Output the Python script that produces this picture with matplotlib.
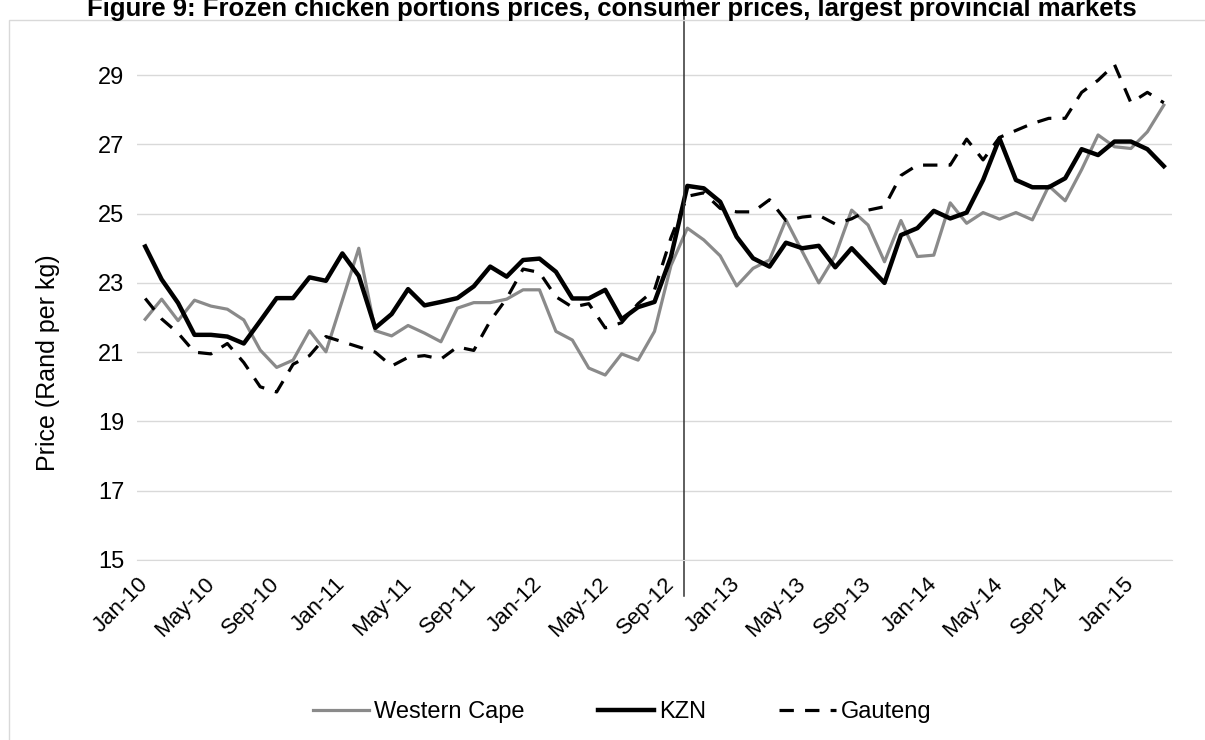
import matplotlib
matplotlib.use('Agg')
import matplotlib.pyplot as plt
from matplotlib.patches import Rectangle

plt.rcParams['font.family'] = ['Liberation Sans', 'DejaVu Sans']

# monthly consumer prices, Jan-10 .. Mar-15 (Rand per kg)
western_cape = [21.95, 22.53, 21.91, 22.5, 22.33, 22.24, 21.93, 21.06, 20.56, 20.77,
                21.62, 21.01, 22.5, 24.0, 21.62, 21.47, 21.77, 21.55, 21.3, 22.27,
                22.43, 22.43, 22.53, 22.8, 22.8, 21.6, 21.35, 20.54, 20.34, 20.95,
                20.77, 21.6, 23.5, 24.58, 24.24, 23.78, 22.91, 23.42, 23.66, 24.82,
                23.9, 23.0, 23.78, 25.1, 24.67, 23.61, 24.8, 23.76, 23.8, 25.31,
                24.72, 25.03, 24.84, 25.03, 24.82, 25.8, 25.37, 26.27, 27.27, 26.93,
                26.88, 27.36, 28.13]
kzn = [24.05, 23.1, 22.42, 21.5, 21.5, 21.45, 21.25, 21.9, 22.56, 22.56,
       23.16, 23.06, 23.85, 23.2, 21.7, 22.1, 22.82, 22.35, 22.45, 22.56,
       22.9, 23.47, 23.18, 23.66, 23.7, 23.32, 22.55, 22.55, 22.8, 21.95,
       22.3, 22.45, 23.75, 25.8, 25.73, 25.34, 24.33, 23.71, 23.47, 24.16,
       24.0, 24.07, 23.45, 24.0, 23.5, 23.0, 24.38, 24.58, 25.08, 24.86,
       25.03, 25.97, 27.17, 25.97, 25.76, 25.76, 26.02, 26.86, 26.69, 27.08,
       27.08, 26.86, 26.37]
gauteng = [22.55, 21.96, 21.55, 21.0, 20.95, 21.25, 20.7, 20.0, 19.85, 20.65,
           20.9, 21.45, 21.3, 21.15, 21.0, 20.6, 20.85, 20.9, 20.8, 21.15,
           21.05, 21.9, 22.55, 23.4, 23.3, 22.6, 22.3, 22.4, 21.7, 21.85,
           22.4, 22.8, 24.3, 25.5, 25.6, 25.15, 25.05, 25.05, 25.4, 24.8,
           24.9, 24.95, 24.7, 24.85, 25.1, 25.2, 26.1, 26.4, 26.4, 26.4,
           27.15, 26.55, 27.2, 27.4, 27.6, 27.75, 27.75, 28.5, 28.85, 29.3,
           28.2, 28.5, 28.2]
tick_labels = ['Jan-10', 'May-10', 'Sep-10', 'Jan-11', 'May-11', 'Sep-11',
               'Jan-12', 'May-12', 'Sep-12', 'Jan-13', 'May-13', 'Sep-13',
               'Jan-14', 'May-14', 'Sep-14', 'Jan-15']
break_month = 32.8  # marker between Sep-12 and Oct-12

months = list(range(len(kzn)))

fig = plt.figure(figsize=(12.05, 7.4), dpi=100)
ax = fig.add_axes([137 / 1205, 180 / 740, 1035 / 1205, 519.6 / 740])

ax.plot(months, western_cape, color='#8a8a8a', lw=2.3, label='Western Cape')
ax.plot(months, kzn, color='black', lw=3.2, label='KZN')
ax.plot(months, gauteng, color='black', lw=2.3, dashes=(4.5, 3.5), label='Gauteng')

ax.axvline(break_month, ymin=-0.07, ymax=1.11, color='#333333', lw=1.1, clip_on=False)

ax.set_xlim(-0.5, len(kzn) - 0.5)
ax.set_ylim(15, 30)
ax.set_yticks(range(15, 30, 2))
ax.set_xticks(range(0, len(kzn), 4))
ax.set_xticklabels(tick_labels, rotation=45, ha='right', va='center', rotation_mode='anchor')
ax.tick_params(axis='x', length=0, labelsize=16, pad=15)
ax.tick_params(axis='y', length=0, labelsize=17, pad=9)
ax.grid(axis='y', color='#d9d9d9', lw=1)
ax.set_axisbelow(True)
for s in ['top', 'right', 'left']:
    ax.spines[s].set_visible(False)
ax.spines['bottom'].set_color('#d9d9d9')
ax.set_ylabel('Price (Rand per kg)', fontsize=18)
ax.yaxis.set_label_coords(-0.0744, 0.379)

fig.legend(loc='center', bbox_to_anchor=(622 / 1205, 1 - 712 / 740), ncol=3,
           frameon=False, fontsize=17, handlelength=2.4, columnspacing=3.1,
           handletextpad=0.2)

fig.text(612 / 1205, 1 - 16 / 740,
         'Figure 9: Frozen chicken portions prices, consumer prices, largest provincial markets',
         ha='center', va='baseline', fontsize=18.5, fontweight='bold')

fig.patches.append(Rectangle((9 / 1205, -0.1), 1.2, 0.1 + 1 - 20 / 740,
                             transform=fig.transFigure, fill=False,
                             edgecolor='#d9d9d9', lw=1))

fig.savefig('out.png', dpi=100)
